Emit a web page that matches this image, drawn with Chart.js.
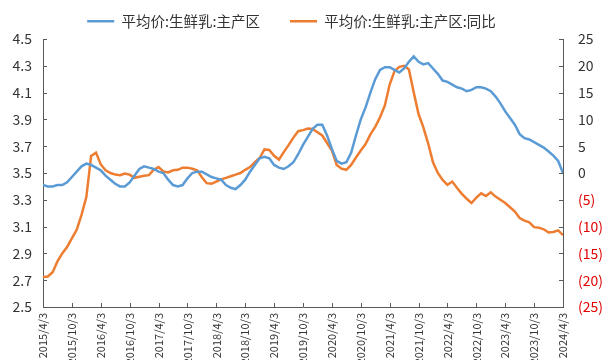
<!DOCTYPE html>
<html>
<head>
<meta charset="utf-8">
<script src="https://cdn.jsdelivr.net/npm/chart.js@4"></script>
<style>
  html, body { margin: 0; padding: 0; background: #fff; }
  #wrap { width: 605px; height: 360px; }
</style>
</head>
<body>
<div id="wrap"><canvas id="chart" width="605" height="360"></canvas></div>
<script>
(function () {
    'use strict';

    /* ── Datos (mensuales, 2015/4 – 2024/4) ───────────────── */
    var START_YEAR  = 2015;
    var START_MONTH = 4;

    var precio = [
        3.41, 3.40, 3.40, 3.41, 3.41, 3.43, 3.47, 3.51, 3.55, 3.57,
        3.56, 3.54, 3.52, 3.48, 3.45, 3.42, 3.40, 3.40, 3.43, 3.48,
        3.53, 3.55, 3.54, 3.53, 3.51, 3.50, 3.45, 3.41, 3.40, 3.41,
        3.46, 3.50, 3.51, 3.51, 3.49, 3.47, 3.46, 3.45, 3.41, 3.39,
        3.38, 3.41, 3.45, 3.51, 3.56, 3.61, 3.62, 3.61, 3.56, 3.54,
        3.53, 3.55, 3.58, 3.64, 3.71, 3.77, 3.83, 3.86, 3.86, 3.78,
        3.68, 3.59, 3.57, 3.58, 3.65, 3.78, 3.90, 3.99, 4.10, 4.20,
        4.27, 4.29, 4.29, 4.27, 4.25, 4.28, 4.33, 4.37, 4.33, 4.31,
        4.32, 4.28, 4.24, 4.19, 4.18, 4.16, 4.14, 4.13, 4.11, 4.12,
        4.14, 4.14, 4.13, 4.11, 4.07, 4.02, 3.96, 3.91, 3.86, 3.79,
        3.76, 3.75, 3.73, 3.71, 3.69, 3.66, 3.63, 3.59, 3.50
    ];

    var tongbi = [
        -19.4, -19.3, -18.5, -16.5, -15.0, -13.8, -12.2, -10.6, -7.8, -4.5,
          3.2,   3.8,   1.6,   0.5,   0.0,  -0.3,  -0.4,  -0.1, -0.3, -0.9,
         -0.7,  -0.5,  -0.4,   0.6,   1.1,   0.3,   0.1,   0.5,  0.6,  1.0,
          1.0,   0.8,   0.5,  -0.8,  -1.9,  -2.0,  -1.6,  -1.2, -0.9, -0.6,
         -0.3,   0.0,   0.6,   1.1,   2.0,   2.8,   4.4,   4.3,  3.2,  2.5,
          3.9,   5.2,   6.6,   7.8,   8.0,   8.3,   8.2,   7.6,  7.0,  5.6,
          4.2,   1.5,   0.8,   0.6,   1.5,   2.9,   4.2,   5.4,  7.2,  8.6,
         10.4,  12.6,  16.5,  19.0,  19.8,  20.0,  19.3,  15.0, 11.0,  8.5,
          5.5,   2.0,   0.0,  -1.3,  -2.2,  -1.6,  -2.8,  -3.9, -4.8, -5.6,
         -4.6,  -3.8,  -4.3,  -3.6,  -4.4,  -5.0,  -5.6,  -6.4, -7.2, -8.4,
         -8.9,  -9.2, -10.1, -10.2, -10.5, -11.1, -11.0, -10.7, -11.6
    ];

    var LABEL_PRECIO = '平均价:生鲜乳:主产区';
    var LABEL_TONGBI = '平均价:生鲜乳:主产区:同比';

    /* ── Colores ──────────────────────────────────────────── */
    var BLUE   = '#5B9BD5';
    var ORANGE = '#ED7D31';
    var AXIS   = '#595959';
    var TEXT   = '#333333';
    var RED    = '#E00000';
    var FONT   = '"Noto Sans CJK SC", "Noto Sans", sans-serif';

    /* ── Helpers ──────────────────────────────────────────── */
    function fechaLabel(i) {
        var m = START_MONTH - 1 + i;
        return (START_YEAR + Math.floor(m / 12)) + '/' + (m % 12 + 1) + '/3';
    }

    function toPoints(arr) {
        return arr.map(function (v, i) { return { x: i, y: v }; });
    }

    // Marcas de eje hacia dentro (como en Excel)
    var innerTicks = {
        id: 'innerTicks',
        afterDraw: function (chart) {
            var ctx = chart.ctx;
            var len = 4;
            ctx.save();
            ctx.strokeStyle = AXIS;
            ctx.lineWidth = 1;
            ctx.beginPath();
            ['x', 'y', 'y2'].forEach(function (id) {
                var s = chart.scales[id];
                s.ticks.forEach(function (t) {
                    var p = Math.round(s.getPixelForValue(t.value)) + 0.5;
                    if (id === 'x') {
                        ctx.moveTo(p, s.top); ctx.lineTo(p, s.top - len);
                    } else if (id === 'y') {
                        ctx.moveTo(s.right, p); ctx.lineTo(s.right + len, p);
                    } else {
                        ctx.moveTo(s.left, p); ctx.lineTo(s.left - len, p);
                    }
                });
            });
            ctx.stroke();
            ctx.restore();
        }
    };

    // Leyenda: altura fija y un poco desplazada a la izquierda
    var legendFix = {
        id: 'legendFix',
        beforeLayout: function (chart) {
            var lg = chart.legend;
            if (!lg || lg._fitFixed) return;
            var fit = lg.fit;
            lg.fit = function () {
                fit.call(this);
                this.height = 55;
            };
            lg._fitFixed = true;
        },
        afterLayout: function (chart) {
            if (!chart.legend) return;
            chart.legend.left  -= 11;
            chart.legend.right -= 11;
        }
    };

    Chart.defaults.font.family = FONT;
    Chart.defaults.color = TEXT;

    new Chart(document.getElementById('chart'), {
        type: 'line',
        data: {
            datasets: [
                {
                    label:       LABEL_PRECIO,
                    data:        toPoints(precio),
                    borderColor: BLUE,
                    backgroundColor: BLUE,
                    borderWidth: 2.5,
                    pointRadius: 0,
                    tension:     0,
                    yAxisID:     'y'
                },
                {
                    label:       LABEL_TONGBI,
                    data:        toPoints(tongbi),
                    borderColor: ORANGE,
                    backgroundColor: ORANGE,
                    borderWidth: 2.5,
                    pointRadius: 0,
                    tension:     0,
                    yAxisID:     'y2'
                }
            ]
        },
        plugins: [innerTicks, legendFix],
        options: {
            responsive: false,
            animation: false,
            layout: { padding: { top: -16, left: 0, right: 0, bottom: 0 } },
            plugins: {
                tooltip: { enabled: false },
                legend: {
                    position: 'top',
                    labels: {
                        usePointStyle:   true,
                        pointStyle:      'line',
                        pointStyleWidth: 27,
                        color:           TEXT,
                        padding:         30,
                        font:            { size: 14.5 }
                    }
                }
            },
            scales: {
                x: {
                    type: 'linear',
                    min: 0,
                    max: precio.length - 1,
                    border: { color: AXIS, width: 1 },
                    grid: { drawOnChartArea: false, drawTicks: false },
                    ticks: {
                        stepSize: 6,
                        autoSkip: false,
                        maxRotation: 90,
                        minRotation: 90,
                        padding: 6,
                        font: { size: 11 },
                        color: TEXT,
                        callback: function (v) { return fechaLabel(v); }
                    },
                    afterFit: function (s) { s.height = 53; }
                },
                y: {
                    position: 'left',
                    min: 2.5,
                    max: 4.5,
                    border: { color: AXIS, width: 1 },
                    grid: { drawOnChartArea: false, drawTicks: false },
                    ticks: {
                        stepSize: 0.2,
                        padding: 11,
                        font: { size: 14 },
                        color: TEXT,
                        callback: function (v) { return v.toFixed(1); }
                    },
                    afterFit: function (s) { s.width = 43; }
                },
                y2: {
                    position: 'right',
                    min: -25,
                    max: 25,
                    border: { color: AXIS, width: 1 },
                    grid: { drawOnChartArea: false, drawTicks: false },
                    ticks: {
                        stepSize: 5,
                        padding: 15,
                        font: { size: 14 },
                        color: function (ctx) { return ctx.tick.value < 0 ? RED : TEXT; },
                        callback: function (v) { return v < 0 ? '(' + (-v) + ')' : String(v); }
                    },
                    afterFit: function (s) { s.width = 42; }
                }
            }
        }
    });
})();
</script>
</body>
</html>
